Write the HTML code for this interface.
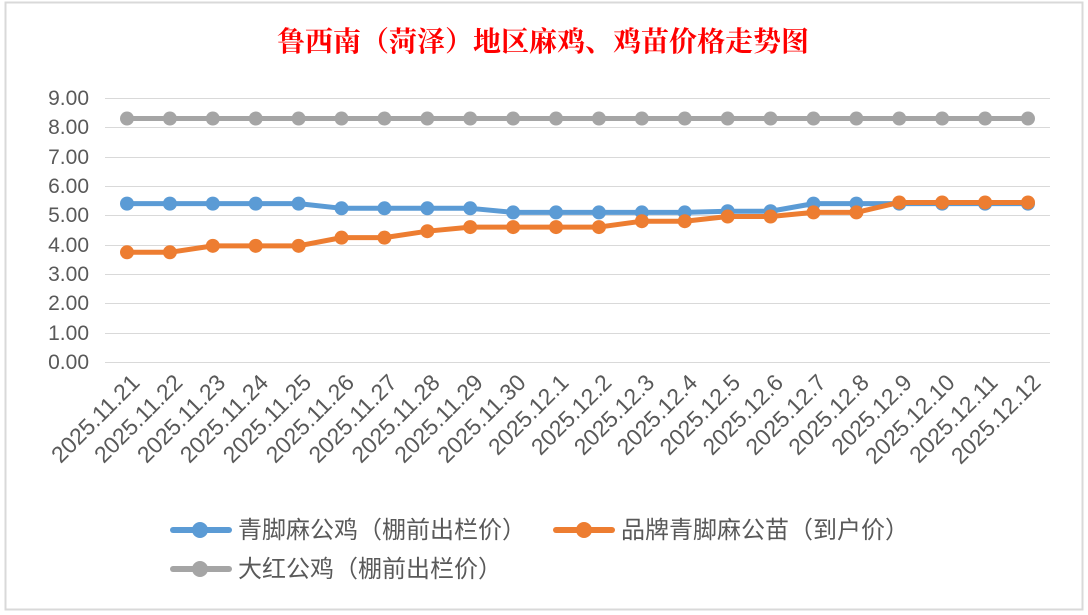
<!DOCTYPE html>
<html><head><meta charset="utf-8"><style>
body{margin:0;background:#fff;}
svg{display:block;font-family:"Liberation Sans","Noto Sans CJK SC",sans-serif;}
</style></head><body>
<svg width="1088" height="615" viewBox="0 0 1088 615">
<rect x="0" y="0" width="1088" height="615" fill="#fff"/>
<rect x="5.5" y="2.5" width="1077" height="607" fill="#fff" stroke="#d9d9d9" stroke-width="2"/>
<text x="543" y="51" text-anchor="middle" font-size="28" font-weight="bold" fill="#ff0000" font-family="'Noto Serif CJK SC','Noto Sans CJK SC',serif">鲁西南（菏泽）地区麻鸡、鸡苗价格走势图</text>
<g stroke="#d9d9d9" stroke-width="1">
<line x1="105" x2="1050" y1="98.5" y2="98.5"/><line x1="105" x2="1050" y1="127.5" y2="127.5"/>
<line x1="105" x2="1050" y1="157.5" y2="157.5"/><line x1="105" x2="1050" y1="186.5" y2="186.5"/>
<line x1="105" x2="1050" y1="215.5" y2="215.5"/><line x1="105" x2="1050" y1="245.5" y2="245.5"/>
<line x1="105" x2="1050" y1="274.5" y2="274.5"/><line x1="105" x2="1050" y1="303.5" y2="303.5"/>
<line x1="105" x2="1050" y1="333.5" y2="333.5"/><line x1="105" x2="1050" y1="362.5" y2="362.5"/>
</g>
<g font-size="21" fill="#595959" text-anchor="end">
<text x="89" y="105">9.00</text><text x="89" y="134">8.00</text><text x="89" y="164">7.00</text>
<text x="89" y="193">6.00</text><text x="89" y="222">5.00</text><text x="89" y="252">4.00</text>
<text x="89" y="281">3.00</text><text x="89" y="310">2.00</text><text x="89" y="340">1.00</text>
<text x="89" y="369">0.00</text>
</g>
<g id="xl" font-size="23" fill="#595959" text-anchor="end"></g>
<g id="series"></g>
<g font-size="24" fill="#595959">
<line x1="173" y1="530" x2="229" y2="530" stroke="#5b9bd5" stroke-width="6" stroke-linecap="round"/>
<circle cx="200" cy="530" r="8" fill="#5b9bd5"/>
<text x="238" y="538">青脚麻公鸡（棚前出栏价）</text>
<line x1="556" y1="530" x2="612" y2="530" stroke="#ed7d31" stroke-width="6" stroke-linecap="round"/>
<circle cx="584" cy="530" r="8" fill="#ed7d31"/>
<text x="621" y="538">品牌青脚麻公苗（到户价）</text>
<line x1="173" y1="569" x2="229" y2="569" stroke="#a5a5a5" stroke-width="6" stroke-linecap="round"/>
<circle cx="200" cy="569" r="8" fill="#a5a5a5"/>
<text x="238" y="577">大红公鸡（棚前出栏价）</text>
</g>
</svg>
<script>
const labels=["2025.11.21","2025.11.22","2025.11.23","2025.11.24","2025.11.25","2025.11.26","2025.11.27","2025.11.28","2025.11.29","2025.11.30","2025.12.1","2025.12.2","2025.12.3","2025.12.4","2025.12.5","2025.12.6","2025.12.7","2025.12.8","2025.12.9","2025.12.10","2025.12.11","2025.12.12"];
const blue=[5.4,5.4,5.4,5.4,5.4,5.24,5.24,5.24,5.24,5.1,5.1,5.1,5.1,5.1,5.14,5.14,5.4,5.4,5.4,5.4,5.4,5.4];
const orange=[3.74,3.74,3.96,3.96,3.96,4.24,4.24,4.46,4.6,4.6,4.6,4.6,4.8,4.8,4.96,4.96,5.1,5.1,5.44,5.44,5.44,5.44];
const gray=labels.map(()=>8.3);
const X=i=>127+i*(1028-127)/21, Y=v=>362-v*29.33;
const ns="http://www.w3.org/2000/svg";
const xl=document.getElementById('xl');
labels.forEach((l,i)=>{const t=document.createElementNS(ns,'text');const x=X(i)+14,y=384;
t.setAttribute('x',x);t.setAttribute('y',y);t.setAttribute('transform',`rotate(-45 ${x} ${y})`);t.textContent=l;xl.appendChild(t);});
const sg=document.getElementById('series');
[[gray,'#a5a5a5'],[blue,'#5b9bd5'],[orange,'#ed7d31']].forEach(([d,c])=>{
const p=document.createElementNS(ns,'polyline');p.setAttribute('points',d.map((v,i)=>X(i)+','+Y(v)).join(' '));
p.setAttribute('fill','none');p.setAttribute('stroke',c);p.setAttribute('stroke-width','5');p.setAttribute('stroke-linejoin','round');sg.appendChild(p);
d.forEach((v,i)=>{const k=document.createElementNS(ns,'circle');k.setAttribute('cx',X(i));k.setAttribute('cy',Y(v));k.setAttribute('r','7');k.setAttribute('fill',c);sg.appendChild(k);});});
</script>
</body></html>
